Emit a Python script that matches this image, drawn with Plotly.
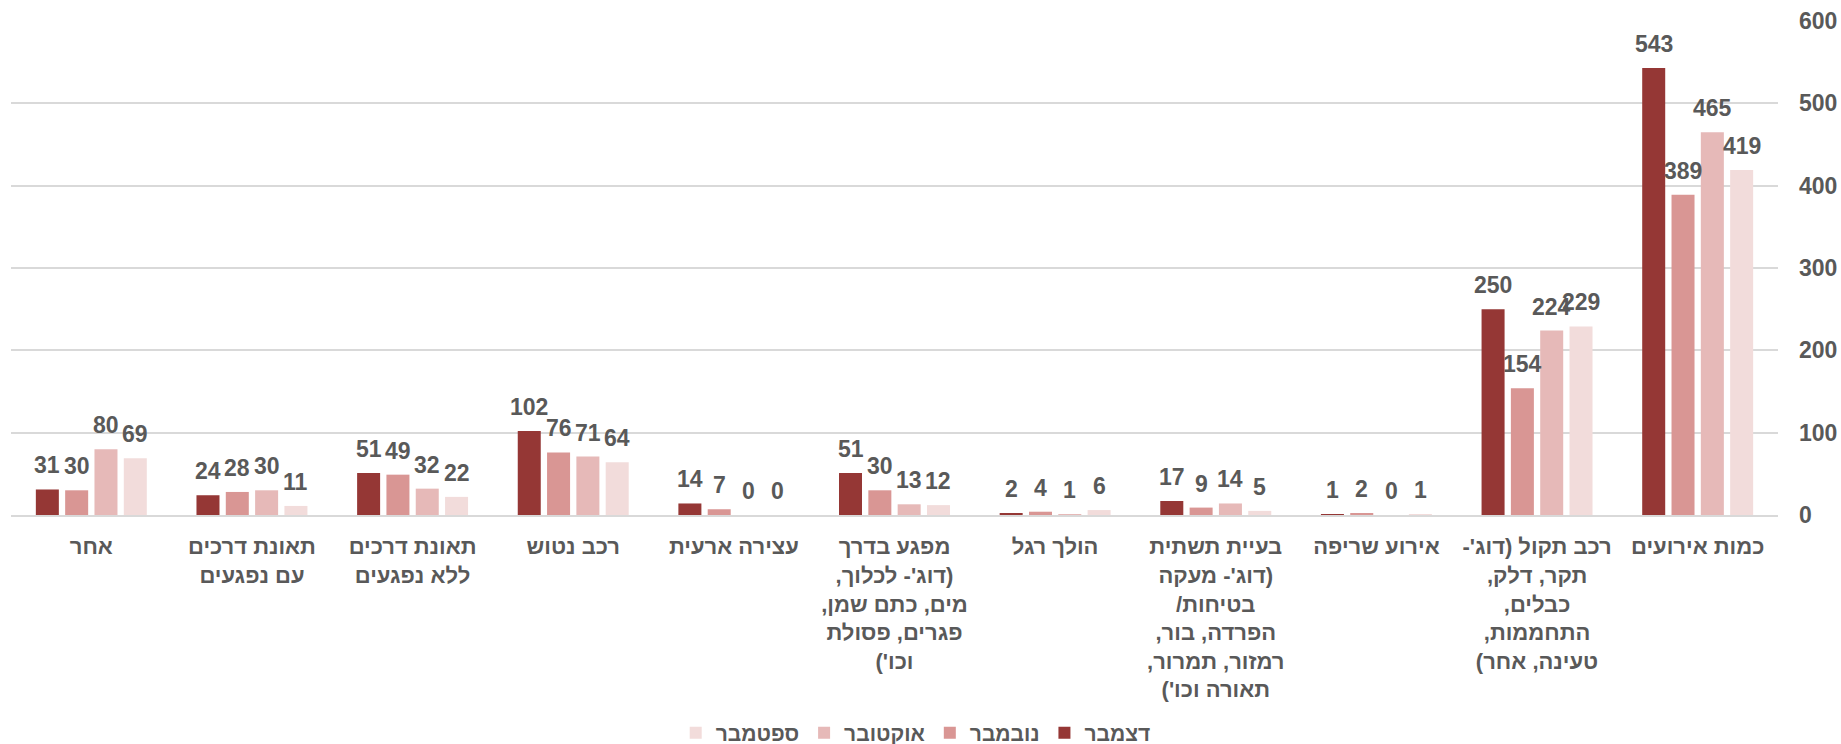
import plotly.graph_objects as go

# Incident categories (right-to-left reading order)
categories = [
    "כמות אירועים",
    "רכב תקול (דוג'- תקר, דלק, כבלים, התחממות, טעינה, אחר)",
    "אירוע שריפה",
    "בעיית תשתית (דוג'- מעקה בטיחות/ הפרדה, בור, רמזור, תמרור, תאורה וכו')",
    "הולך רגל",
    "מפגע בדרך (דוג'- לכלוך, מים, כתם שמן, פגרים, פסולת וכו')",
    "עצירה ארעית",
    "רכב נטוש",
    "תאונת דרכים ללא נפגעים",
    "תאונת דרכים עם נפגעים",
    "אחר",
]

# Wrapped axis labels, one list of lines per category
tick_lines = [
    ["כמות אירועים"],
    ["רכב תקול (דוג'-", "תקר, דלק,", "כבלים,", "התחממות,", "טעינה, אחר)"],
    ["אירוע שריפה"],
    ["בעיית תשתית", "(דוג'- מעקה", "בטיחות/", "הפרדה, בור,", "רמזור, תמרור,", "תאורה וכו')"],
    ["הולך רגל"],
    ["מפגע בדרך", "(דוג'- לכלוך,", "מים, כתם שמן,", "פגרים, פסולת", "וכו')"],
    ["עצירה ארעית"],
    ["רכב נטוש"],
    ["תאונת דרכים", "ללא נפגעים"],
    ["תאונת דרכים", "עם נפגעים"],
    ["אחר"],
]

months = ["ספטמבר", "אוקטובר", "נובמבר", "דצמבר"]
september = [419, 229, 1, 5, 6, 12, 0, 64, 22, 11, 69]
october = [465, 224, 0, 14, 1, 13, 0, 71, 32, 30, 80]
november = [389, 154, 2, 9, 4, 30, 7, 76, 49, 28, 30]
december = [543, 250, 1, 17, 2, 51, 14, 102, 51, 24, 31]
series = [september, october, november, december]
colors = ["#F2DCDB", "#E6B9B8", "#D99694", "#953735"]

RLM = "\u200f"
tick_text = ["<br>".join(RLM + ln + RLM for ln in lines) for lines in tick_lines]

FONT = "Liberation Sans, Arial, sans-serif"
GREY = "#595959"
BARGAP = 0.27
BARGROUPGAP = 0.215

fig = go.Figure()
for name, vals, col in zip(months, series, colors):
    fig.add_trace(go.Bar(
        name=name,
        x=categories,
        y=vals,
        marker=dict(color=col, line=dict(width=0)),
        hovertemplate="%{y}<extra>" + name + "</extra>",
    ))

# Value labels above each bar, centred on the bar's slot within its group
n_series = len(series)
group_w = 1 - BARGAP
slot = group_w / n_series
annotations = []
for s_idx, vals in enumerate(series):
    offset = -group_w / 2 + (s_idx + 0.5) * slot
    for c_idx, v in enumerate(vals):
        annotations.append(dict(
            x=c_idx + offset, y=v, xref="x", yref="y",
            text=str(v), showarrow=False,
            yanchor="bottom", xanchor="center", yshift=9,
            font=dict(family=FONT, size=23, color=GREY, weight="bold"),
        ))

fig.update_layout(
    width=1841,
    height=744,
    margin=dict(l=11, r=63, t=21, b=229),
    paper_bgcolor="white",
    plot_bgcolor="white",
    barmode="group",
    bargap=BARGAP,
    bargroupgap=BARGROUPGAP,
    font=dict(family=FONT, color=GREY, weight="bold"),
    annotations=annotations,
    showlegend=True,
    legend=dict(
        orientation="h",
        x=0.512, xanchor="center",
        yref="container",
        y=0.0148, yanchor="middle",
        font=dict(family=FONT, size=21, color=GREY, weight="bold"),
        itemwidth=30,
        bgcolor="rgba(0,0,0,0)",
    ),
    xaxis=dict(
        type="category",
        autorange="reversed",
        tickmode="array",
        tickvals=categories,
        ticktext=tick_text,
        tickfont=dict(family=FONT, size=22, color=GREY, weight="bold"),
        ticklabelstandoff=11,
        showline=True,
        linecolor="#D9D9D9",
        linewidth=2,
        showgrid=False,
        ticks="",
        tickangle=0,
        automargin=False,
    ),
    yaxis=dict(
        side="right",
        range=[0, 600],
        dtick=100,
        tickfont=dict(family=FONT, size=23, color=GREY, weight="bold"),
        showgrid=True,
        gridcolor="#D9D9D9",
        gridwidth=1.5,
        zeroline=False,
        showline=False,
        ticks="",
        ticklabelstandoff=20,
        automargin=False,
    ),
)

fig.write_html("out.html")
